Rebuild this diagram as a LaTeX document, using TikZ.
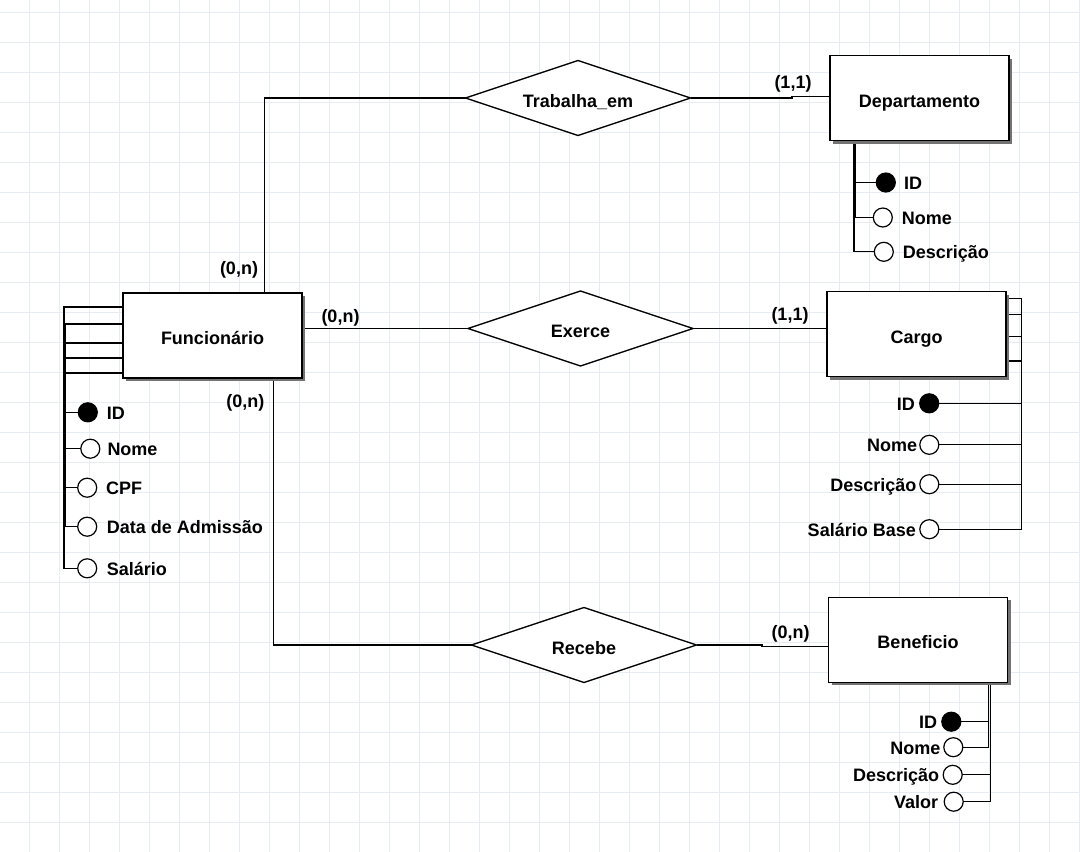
\documentclass[tikz,border=0pt]{standalone}
\usepackage{fontspec}
\setmainfont{Liberation Sans}
\usetikzlibrary{shapes.geometric,shadows}
\pgfdeclarelayer{bg}
\pgfdeclarelayer{links}
\pgfsetlayers{bg,links,main}
\newcommand\erfont{\fontsize{18}{21}\selectfont\bfseries}
\definecolor{gridc}{RGB}{230,236,242}
\tikzset{
  ent/.style={draw, line width=1.4pt, fill=white, minimum width=179pt, minimum height=85pt,
    inner sep=0pt, outer sep=0pt, font=\erfont, text height=17.8pt, text depth=0pt,
    drop shadow={shadow xshift=3pt, shadow yshift=-3pt, fill=black!55, opacity=1}},
  rel/.style={diamond, aspect=3, draw, line width=1.3pt, fill=white, minimum width=225pt,
    minimum height=75pt, inner sep=0pt, outer sep=0pt, font=\erfont, text height=18.4pt, text depth=0pt},
  att/.style={circle, draw, line width=1.2pt, minimum size=19pt, inner sep=0pt, outer sep=0pt, fill=white},
  key/.style={att, fill=black},
  lbl/.style={inner sep=0pt, font=\erfont},
  card/.style={inner sep=0pt, font=\erfont},
  link/.style={line width=1.3pt, black},
}
\begin{document}
\begin{tikzpicture}[x=1pt,y=-1pt]
\useasboundingbox (0,0) rectangle (1080,852);
\begin{pgfonlayer}{bg}
  \fill[white] (0,0) rectangle (1080,852);
  \foreach \gx in {29,59,...,1079} \draw[gridc, line width=1pt] (\gx,0) -- (\gx,852);
  \foreach \gy in {12,42,...,852} \draw[gridc, line width=1pt] (0,\gy) -- (1080,\gy);
\end{pgfonlayer}

% entities
\node[ent] (de) at (919.5,98.2) {Departamento};
\node[ent] (fu) at (212.5,335.4) {Funcionário};
\node[ent] (ca) at (916.5,334.2) {Cargo};
\node[ent] (be) at (918,639.8) {Beneficio};

% relationships
\node[rel] (tr) at (578,98) {Trabalha\_em};
\node[rel] (ex) at (580.5,328.5) {Exerce};
\node[rel] (re) at (584,645) {Recebe};

% Funcionario attributes
\node[key] (fID) at (87.8,412.3) {};
\node[att] (fNome) at (90.3,448.7) {};
\node[att] (fCPF) at (87.2,487.7) {};
\node[att] (fData) at (87.2,526.7) {};
\node[att] (fSal) at (87.2,568.3) {};
\node[lbl, anchor=base west] (tfID) at (106.7,419.3) {ID};
\node[lbl, anchor=base west] (tfNome) at (107.3,455.7) {Nome};
\node[lbl, anchor=base west] (tfCPF) at (106,494.7) {CPF};
\node[lbl, anchor=base west] (tfData) at (106.7,533.7) {Data de Admissão};
\node[lbl, anchor=base west] (tfSal) at (106.7,575.3) {Salário};

% Departamento attributes
\node[key] (dID) at (885.8,182.5) {};
\node[att] (dNome) at (882.8,217.5) {};
\node[att] (dDesc) at (883.8,251.8) {};
\node[lbl, anchor=base west] (tdID) at (904,189.5) {ID};
\node[lbl, anchor=base west] (tdNome) at (901.7,224.5) {Nome};
\node[lbl, anchor=base west] (tdDesc) at (902.7,258.8) {Descrição};

% Cargo attributes
\node[key] (cID) at (929.2,403.3) {};
\node[att] (cNome) at (929.3,444.8) {};
\node[att] (cDesc) at (929.3,484.2) {};
\node[att] (cSal) at (929.3,529.2) {};
\node[lbl, anchor=base east] (tcID) at (915,410.3) {ID};
\node[lbl, anchor=base east] (tcNome) at (917.3,451.8) {Nome};
\node[lbl, anchor=base east] (tcDesc) at (916.7,491.2) {Descrição};
\node[lbl, anchor=base east] (tcSal) at (916,536.2) {Salário Base};

% Beneficio attributes
\node[key] (bID) at (951.3,721.7) {};
\node[att] (bNome) at (953.3,747.2) {};
\node[att] (bDesc) at (952.7,774.8) {};
\node[att] (bVal) at (953.7,801.7) {};
\node[lbl, anchor=base east] (tbID) at (937.3,728.7) {ID};
\node[lbl, anchor=base east] (tbNome) at (940.7,754.2) {Nome};
\node[lbl, anchor=base east] (tbDesc) at (939.3,781.8) {Descrição};
\node[lbl, anchor=base east] (tbVal) at (938.3,808.7) {Valor};

% cardinalities
\node[card] (k1) at (239,270.3) {(0,n)};
\node[card] (k2) at (340.5,318) {(0,n)};
\node[card] (k3) at (245.3,402.5) {(0,n)};
\node[card] (k4) at (793,84.2) {(1,1)};
\node[card] (k5) at (790,316) {(1,1)};
\node[card] (k6) at (790.5,634) {(0,n)};

\begin{pgfonlayer}{links}
  % relationship connectors
  \draw[link] (tr.west) -| (fu.north -| 264.3,0);
  \draw[link] (tr.east) -- (792,98) -- (792,96.3) -- (de.west |- 0,96.3);
  \draw[link] (fu.east |- ex.west) -- (ex.west);
  \draw[link] (ex.east) -- (ca.west |- ex.east);
  \draw[link] (fu.south -| 273.5,0) |- (re.west);
  \draw[link] (re.east) -- (762,645) -- (762,646.5) -- (be.west |- 0,646.5);
  % Funcionario attributes
  \draw[link] (fu.west |- 0,307) -| (64,568.3) -- (fSal.west);
  \draw[link] (fu.west |- 0,324) -| (65.7,526.7) -- (fData.west);
  \draw[link] (fu.west |- 0,343) -| (65.7,487.7) -- (fCPF.west);
  \draw[link] (fu.west |- 0,358) -| (65.7,448.7) -- (fNome.west);
  \draw[link] (fu.west |- 0,373) -| (65.7,412.3) -- (fID.west);
  % Departamento attributes
  \draw[link] (de.south -| 854,0) |- (dID.west);
  \draw[link] (de.south -| 855.5,0) |- (dNome.west);
  \draw[link] (de.south -| 854,0) |- (dDesc.west);
  % Cargo attributes
  \draw[link] (ca.east |- 0,298.3) -| (1021.7,529.2) -- (cSal.east);
  \draw[link] (ca.east |- 0,314.3) -| (1021.7,484.2) -- (cDesc.east);
  \draw[link] (ca.east |- 0,336.7) -| (1021.7,444.8) -- (cNome.east);
  \draw[link] (ca.east |- 0,361) -| (1021.7,403.3) -- (cID.east);
  % Beneficio attributes
  \draw[link] (be.south -| 988.3,0) |- (bID.east);
  \draw[link] (be.south -| 988.3,0) |- (bNome.east);
  \draw[link] (be.south -| 990.7,0) |- (bDesc.east);
  \draw[link] (be.south -| 990.7,0) |- (bVal.east);
\end{pgfonlayer}
\end{tikzpicture}
\end{document}
